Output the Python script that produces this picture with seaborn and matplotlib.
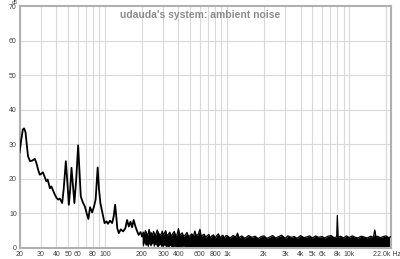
import matplotlib
matplotlib.use("Agg")
import matplotlib.pyplot as plt
from matplotlib.transforms import ScaledTranslation
import seaborn as sns
import pandas as pd

# ---- data ----
low_freq = [20, 20.6, 21.3, 21.8, 22.4, 23.0, 23.5, 24.4, 25.5, 26.7, 27.5, 28.5, 29.3,
            30.2, 31.1, 32.2, 33.2, 34.0, 35.5, 36.5, 37.8, 39.0, 40.2, 41.5, 42.8,
            44.7, 46.0, 47.9, 49.3, 50.7, 52.0, 53.3, 54.8, 56.3, 58.3, 60.4, 62.0,
            63.5, 66.0, 68.6, 71.0, 73.3, 75.6, 78.7, 81.5, 84.0, 87.3, 89.5, 91.9,
            94.9, 99.4, 103.3, 105.9, 110, 114.6, 118, 121.3, 123.6, 126.3, 130, 135,
            141, 147, 152, 157, 162, 167, 172, 178, 183, 189, 196, 202]
low_db = [27.5, 31.0, 34.3, 34.6, 33.5, 29.5, 26.5, 25.1, 25.3, 25.8, 24.6, 22.5, 21.2,
          21.5, 21.9, 20.5, 19.3, 19.8, 17.3, 17.8, 16.5, 15.4, 14.5, 14.0, 14.3,
          13.0, 17.0, 25.1, 19.0, 12.5, 17.0, 23.2, 18.0, 13.0, 20.0, 29.7, 22.0,
          14.9, 13.2, 12.0, 10.0, 8.4, 11.8, 10.3, 12.0, 14.0, 23.3, 17.0, 13.0,
          10.6, 7.2, 7.7, 7.0, 7.9, 7.2, 9.1, 12.5, 9.7, 5.7, 4.3, 5.4,
          4.8, 5.7, 8.1, 6.2, 7.6, 6.0, 8.1, 6.2, 5.0, 3.8, 4.6, 3.3]

band_freq = [202, 206, 210, 215, 220, 225, 230, 236, 240, 246, 250, 255, 260, 268, 275,
             282, 290, 295, 300, 308, 315, 322, 330, 340, 350, 360, 370, 380, 390,
             400, 410, 420, 430, 440, 455, 470, 485, 500, 515, 530, 545, 560, 580,
             600, 615, 630, 650, 670, 690, 710, 730, 750, 775, 800, 825, 850, 875,
             900, 925, 950, 975, 1000, 1060, 1120, 1180, 1220, 1250, 1320, 1400,
             1500, 1600, 1700, 1800, 1900, 2000, 2120, 2240, 2360, 2500, 2650, 2800,
             3000, 3150, 3350, 3550, 3750, 4000, 4250, 4500, 4750, 5000, 5300, 5600,
             6000, 6300, 6700, 7100, 7500, 7900, 8000, 8100, 8500, 9000, 9500, 10000,
             10600, 11200, 11800, 12500, 13200, 14000, 15000, 15800, 16200, 16600,
             17000, 18000, 19000, 20000, 21000, 22000]
band_top = [3.3, 4.6, 3.9, 5.0, 4.2, 3.6, 5.4, 4.0, 4.4, 3.5, 4.8, 4.1, 3.6, 5.2, 4.3,
            3.8, 4.1, 4.9, 3.7, 4.4, 5.0, 3.6, 3.9, 4.6, 3.4, 4.2, 4.8, 3.5, 3.9,
            5.6, 3.6, 4.1, 4.4, 3.4, 3.8, 4.5, 3.2, 3.7, 4.1, 3.3, 4.9, 3.6, 3.9,
            5.4, 3.3, 3.7, 4.0, 3.1, 3.6, 3.9, 3.0, 3.5, 3.8, 2.9, 3.6, 4.1, 3.0,
            3.4, 3.7, 2.8, 3.5, 3.6, 2.9, 3.6, 3.2, 4.3, 3.0, 3.5, 2.8,
            3.6, 3.1, 3.4, 2.7, 3.3, 3.5, 2.8, 3.2, 3.6, 2.9, 3.3, 3.7,
            2.8, 3.5, 3.1, 3.3, 2.8, 3.6, 3.0, 3.2, 3.5, 2.9, 3.5, 3.1,
            3.3, 2.9, 3.4, 3.6, 3.0, 3.2, 9.4, 3.1, 3.4, 2.9, 3.5, 3.0,
            3.5, 3.1, 2.9, 3.4, 3.2, 2.9, 3.4, 3.1, 5.2, 3.0,
            3.4, 3.0, 3.3, 3.5, 3.0, 3.3]
band_bottom = [1.2, 0.4, 1.6, 0.7, 1.0, 0.2, 1.3, 0.5, 0.9, 1.5, 0.3, 0.8, 1.2, 0.2, 0.6,
               1.1, 0.1, 0.7, 0.4, 1.0, 0.2, 0.6, 0.0, 0.8, 0.3, 0.0, 0.6, 0.2, 0.4,
               0.0, 0.5, 0.0, 0.3, 0.6, 0.0, 0.2, 0.0, 0.4, 0.0, 0.1, 0.3, 0.0, 0.2,
               0.0, 0.0, 0.2, 0.0, 0.0, 0.1, 0.0, 0.0, 0.0, 0.0, 0.0, 0.0, 0.0, 0.0,
               0.0, 0.0, 0.0, 0.0, 0.0, 0.0, 0.0, 0.0, 0.0, 0.0, 0.0, 0.0,
               0.0, 0.0, 0.0, 0.0, 0.0, 0.0, 0.0, 0.0, 0.0, 0.0, 0.0, 0.0,
               0.0, 0.0, 0.0, 0.0, 0.0, 0.0, 0.0, 0.0, 0.0, 0.0, 0.0, 0.0,
               0.0, 0.0, 0.0, 0.0, 0.0, 0.0, 0.0, 0.0, 0.0, 0.0, 0.0, 0.0,
               0.0, 0.0, 0.0, 0.0, 0.0, 0.0, 0.0, 0.0, 0.0, 0.0,
               0.0, 0.0, 0.0, 0.0, 0.0, 0.0]

x_ticks = [20, 30, 40, 50, 60, 80, 100, 200, 300, 400, 600, 800, 1000, 2000, 3000,
           4000, 5000, 6000, 8000, 10000, 22000]
x_labels = ["20", "30", "40", "50", "60", "80", "100", "200", "300", "400", "600", "800",
            "1k", "2k", "3k", "4k", "5k", "6k", "8k", "10k", "22.0k Hz"]
y_ticks = [0, 10, 20, 30, 40, 50, 60, 70]
title = "udauda's system: ambient noise"

# ---- plotting ----
sns.set_theme(style="white")
plt.rcParams['font.family'] = ['Liberation Sans', 'DejaVu Sans']

fig = plt.figure(figsize=(4.0, 2.59), dpi=100)
ax = fig.add_axes([19.5 / 400, 11 / 259, (391 - 19.5) / 400, (248 - 6) / 259])

ax.set_xscale('log')
ax.set_xlim(20, 22000)
ax.set_ylim(0, 70)

# grid
minor_grid = [m * 10 ** e for e in range(1, 5) for m in range(1, 10)]
minor_grid = [g for g in minor_grid if 20 <= g <= 22000] + [20000]
for g in minor_grid:
    ax.axvline(g, color='#d9d9d9', lw=0.8, zorder=0)
for yv in y_ticks[1:-1]:
    ax.axhline(yv, color='#d9d9d9', lw=0.8, zorder=0)

band_df = pd.DataFrame({"freq": band_freq, "top": band_top, "bottom": band_bottom})
ax.fill_between(band_df["freq"], band_df["bottom"], band_df["top"], color='black',
                lw=0, zorder=2)
sns.lineplot(data=band_df, x="freq", y="top", ax=ax, color='black', lw=0.9,
             estimator=None, sort=False, zorder=3)

low_df = pd.DataFrame({"freq": low_freq, "db": low_db})
sns.lineplot(data=low_df, x="freq", y="db", ax=ax, color='black', lw=1.3,
             estimator=None, sort=False, zorder=3)

ax.set_xticks(x_ticks)
ax.set_xticklabels(x_labels)
ax.xaxis.set_minor_locator(matplotlib.ticker.NullLocator())
ax.set_yticks(y_ticks)
ax.set_yticklabels([str(v) for v in y_ticks])
ax.tick_params(axis='both', length=0, labelsize=5, colors='#404040', pad=2)
ax.set_xlabel("")
ax.set_ylabel("")
last = ax.get_xticklabels()[-1]
last.set_transform(last.get_transform() + ScaledTranslation(-4 / 100, 0, fig.dpi_scale_trans))

for s in ax.spines.values():
    s.set_color('#b0b0b0')
    s.set_linewidth(1.5)
    s.set_visible(True)

ax.text(0.486, 0.985, title, transform=ax.transAxes, ha='center', va='top',
        fontsize=7.5, fontweight='bold', color='#8c8c8c')
fig.text(15 / 400, 1.0, "dB", ha='center', va='top', fontsize=3.5, color='#404040')

fig.savefig("out.png", dpi=100, facecolor='white')
